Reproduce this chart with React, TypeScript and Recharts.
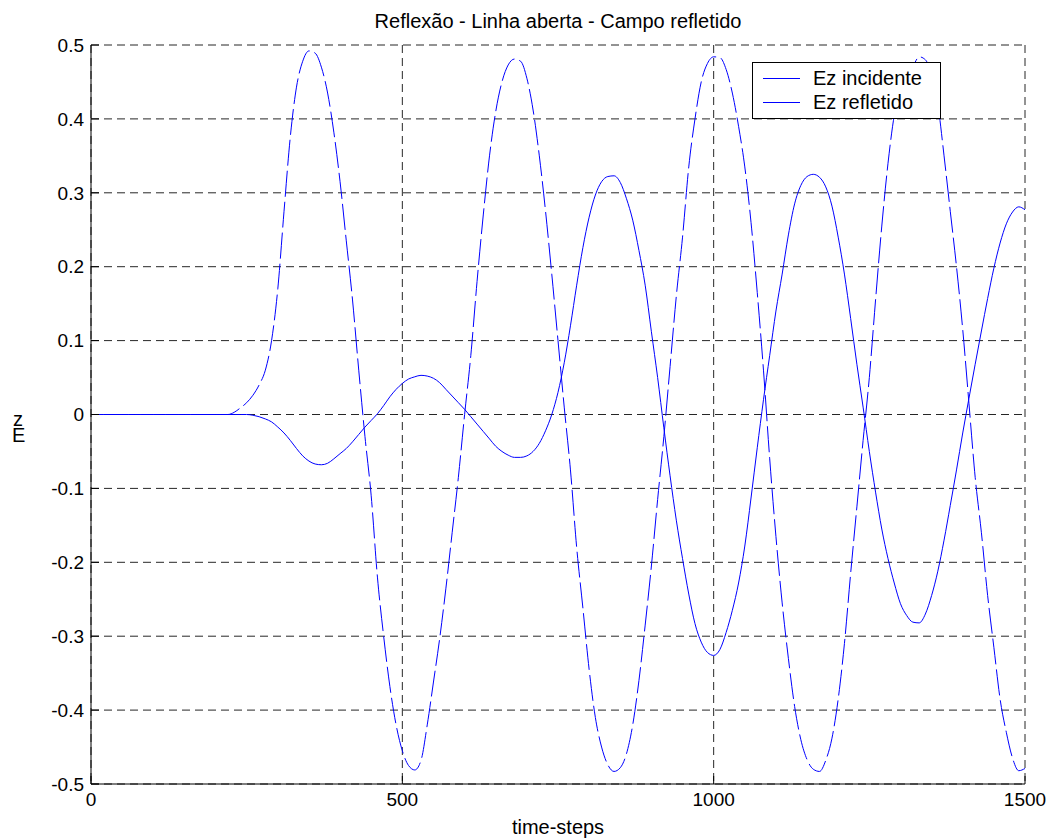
import React from "react"
import { LineChart, Line, XAxis, YAxis, CartesianGrid, Legend } from "recharts"

const FONT = "'Liberation Sans', Arial, Helvetica, sans-serif"
const BLUE = "#0000ff"

// sampled every 10 time-steps, 0..1500
const STEP = 10

const incidentValues = [
  0, 0, 0, 0, 0, 0, 0, 0, 0, 0, 0, 0, 0, 0, 0, 0, 0, 0, 0, 0, 0, 0, 0,
  0.003, 0.009, 0.016, 0.026, 0.04, 0.06, 0.1, 0.17, 0.275, 0.375, 0.443, 0.478, 0.492,
  0.489, 0.47, 0.435, 0.382, 0.315, 0.235, 0.155, 0.06, -0.03, -0.11, -0.22, -0.3, -0.368,
  -0.42, -0.455, -0.475, -0.481, -0.468, -0.42, -0.362, -0.303, -0.235, -0.16, -0.085,
  0, 0.08, 0.18, 0.27, 0.35, 0.41, 0.45, 0.473, 0.481, 0.478, 0.455, 0.412, 0.35,
  0.275, 0.19, 0.1, 0.01, -0.075, -0.18, -0.262, -0.345, -0.41, -0.45, -0.474, -0.483,
  -0.478, -0.459, -0.42, -0.36, -0.285, -0.205, -0.115, -0.03, 0.065, 0.16, 0.24, 0.335,
  0.4, 0.45, 0.475, 0.484, 0.483, 0.467, 0.435, 0.39, 0.335, 0.26, 0.165, 0.06, -0.06,
  -0.165, -0.255, -0.33, -0.395, -0.44, -0.467, -0.48, -0.483, -0.468, -0.438, -0.385,
  -0.31, -0.215, -0.125, -0.035, 0.05, 0.155, 0.255, 0.34, 0.405, 0.445, 0.468, 0.472,
  0.484, 0.48, 0.46, 0.42, 0.35, 0.275, 0.2, 0.115, 0.015, -0.085, -0.16, -0.245, -0.315,
  -0.385, -0.43, -0.465, -0.482, -0.479,
]

const reflectedValues = [
  0, 0, 0, 0, 0, 0, 0, 0, 0, 0, 0, 0, 0, 0, 0, 0, 0, 0, 0, 0, 0, 0, 0, 0, 0, 0,
  -0.001, -0.003, -0.006, -0.01, -0.017, -0.025, -0.035, -0.046, -0.056, -0.063, -0.067,
  -0.068, -0.066, -0.06, -0.053, -0.046, -0.037, -0.027, -0.017, -0.008, 0.001, 0.012,
  0.024, 0.034, 0.042, 0.048, 0.051, 0.053, 0.052, 0.049, 0.043, 0.034, 0.025, 0.016,
  0.007, -0.003, -0.013, -0.023, -0.033, -0.043, -0.05, -0.055, -0.058, -0.058, -0.056,
  -0.05, -0.039, -0.022, 0, 0.03, 0.07, 0.12, 0.175, 0.226, 0.267, 0.297, 0.315,
  0.322, 0.323, 0.314, 0.292, 0.263, 0.222, 0.175, 0.112, 0.05, -0.018, -0.083, -0.143,
  -0.195, -0.243, -0.283, -0.308, -0.322, -0.326, -0.318, -0.295, -0.265, -0.228, -0.178,
  -0.113, -0.045, 0.02, 0.08, 0.14, 0.19, 0.243, 0.285, 0.31, 0.322, 0.325, 0.321, 0.308,
  0.282, 0.24, 0.19, 0.13, 0.068, 0.01, -0.05, -0.105, -0.155, -0.195, -0.228, -0.256,
  -0.272, -0.281, -0.282, -0.27, -0.245, -0.212, -0.17, -0.123, -0.075, -0.025, 0.022,
  0.068, 0.113, 0.157, 0.198, 0.232, 0.258, 0.274, 0.281, 0.277,
]

const timeSteps = incidentValues.map((_, i) => i * STEP)

const X_TICKS = [0, 500, 1000, 1500]
const Y_TICKS = [-0.5, -0.4, -0.3, -0.2, -0.1, 0, 0.1, 0.2, 0.3, 0.4, 0.5]

const SERIES_NAMES = ["Ez incidente", "Ez refletido"]

const data = timeSteps.map((t, i) => ({
  t,
  incidente: incidentValues[i],
  refletido: reflectedValues[i],
}))

function LegendBox() {
  return (
    <div
      style={{
        boxSizing: "border-box",
        width: 189,
        height: 57,
        border: "1px solid #000",
        background: "#fff",
        fontFamily: FONT,
        fontSize: 20,
        color: "#000",
        paddingTop: 3,
      }}
    >
      {SERIES_NAMES.map((name) => (
        <div key={name} style={{ display: "flex", alignItems: "center", height: 24 }}>
          <svg width={60} height={24} style={{ flex: "none" }}>
            <line x1={10} x2={47} y1={12.5} y2={12.5} stroke={BLUE} strokeWidth={1} />
          </svg>
          <span style={{ lineHeight: "24px" }}>{name}</span>
        </div>
      ))}
    </div>
  )
}

export default function App() {
  return (
    <div style={{ position: "absolute", left: 0, top: 0, width: 1054, height: 839, background: "#fff" }}>
      <LineChart
        width={1054}
        height={839}
        data={data}
        margin={{ top: 45, right: 29, bottom: 25, left: 31 }}
        style={{ fontFamily: FONT }}
      >
        <CartesianGrid stroke="#000" strokeDasharray="8 5" strokeOpacity={0.85} />
        <XAxis
          dataKey="t"
          type="number"
          domain={[0, 1500]}
          ticks={X_TICKS}
          interval={0}
          height={30}
          stroke="#000"
          tickSize={-8}
          tickMargin={17}
          tick={{ fill: "#000", fontSize: 19 }}
        />
        <XAxis
          xAxisId="top"
          orientation="top"
          dataKey="t"
          type="number"
          domain={[0, 1500]}
          ticks={X_TICKS}
          interval={0}
          height={0}
          stroke="#000"
          tickSize={-8}
          tick={false}
        />
        <YAxis
          type="number"
          domain={[-0.5, 0.5]}
          ticks={Y_TICKS}
          interval={0}
          width={60}
          stroke="#000"
          tickSize={-8}
          tickMargin={15}
          tick={{ fill: "#000", fontSize: 19 }}
          tickFormatter={(v: number) => String(v)}
        />
        <YAxis
          yAxisId="right"
          orientation="right"
          type="number"
          domain={[-0.5, 0.5]}
          ticks={Y_TICKS}
          interval={0}
          width={0}
          stroke="#000"
          tickSize={-8}
          tick={false}
        />
        <Legend
          layout="horizontal"
          verticalAlign="middle"
          align="center"
          wrapperStyle={{ left: 752, top: 62, width: 189, height: 57 }}
          content={() => <LegendBox />}
        />
        <Line
          type="monotone"
          dataKey="incidente"
          name={SERIES_NAMES[0]}
          stroke={BLUE}
          strokeWidth={1}
          strokeDasharray="26 5"
          dot={false}
          isAnimationActive={false}
        />
        <Line
          type="monotone"
          dataKey="refletido"
          name={SERIES_NAMES[1]}
          stroke={BLUE}
          strokeWidth={1}
          dot={false}
          isAnimationActive={false}
        />
      </LineChart>
      <svg
        width={1054}
        height={839}
        style={{ position: "absolute", left: 0, top: 0, pointerEvents: "none" }}
      >
        <text x={558} y={28} textAnchor="middle" fontFamily={FONT} fontSize={20} fill="#000">
          Reflexão - Linha aberta - Campo refletido
        </text>
        <text x={558} y={834} textAnchor="middle" fontFamily={FONT} fontSize={20} fill="#000">
          time-steps
        </text>
        {/* y label: letters drawn upright, stacked bottom-to-top */}
        <text fontFamily={FONT} fontSize={20} fill="#000">
          <tspan x={12} y={442}>E</tspan>
          <tspan x={13} y={426}>z</tspan>
        </text>
      </svg>
    </div>
  )
}
